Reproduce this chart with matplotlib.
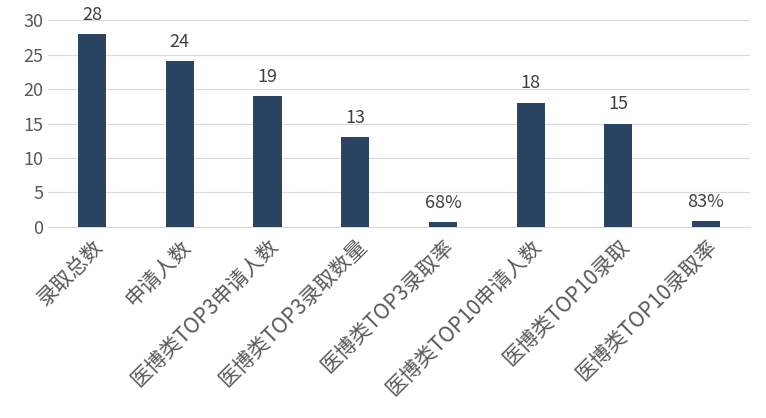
import matplotlib.pyplot as plt

plt.rcParams['font.family'] = ['Noto Sans CJK SC', 'DejaVu Sans']

categories = ["录取总数", "申请人数", "医博类TOP3申请人数", "医博类TOP3录取数量",
              "医博类TOP3录取率", "医博类TOP10申请人数", "医博类TOP10录取", "医博类TOP10录取率"]
values = [28, 24, 19, 13, 0.68, 18, 15, 0.83]
labels = ["28", "24", "19", "13", "68%", "18", "15", "83%"]

fig = plt.figure(figsize=(7.66, 4.18), dpi=100)
ax = fig.add_axes([0.063, 0.457, 0.916, 0.495])

x = range(len(categories))
bars = ax.bar(x, values, width=0.32, color="#2A4462", zorder=3)
for bar, lab in zip(bars, labels):
    ax.text(bar.get_x() + bar.get_width() / 2, bar.get_height() + 1.5, lab,
            ha="center", va="bottom", fontsize=13, color="#404040")

ax.set_xlim(-0.5, len(categories) - 0.5)
ax.set_ylim(0, 30)
ax.set_yticks(range(0, 31, 5))
ax.grid(axis="y", color="#D9D9D9", linewidth=0.8, zorder=0)
for s in ["top", "right", "left"]:
    ax.spines[s].set_visible(False)
ax.spines["bottom"].set_color("#D9D9D9")
ax.tick_params(axis="y", length=0, labelsize=13, colors="#595959")
ax.tick_params(axis="x", length=0, labelsize=15, colors="#595959", pad=6)
ax.set_xticks(list(x))
ax.set_xticklabels(categories, rotation=45, ha="right", rotation_mode="anchor")

fig.savefig("out.png", dpi=100)
